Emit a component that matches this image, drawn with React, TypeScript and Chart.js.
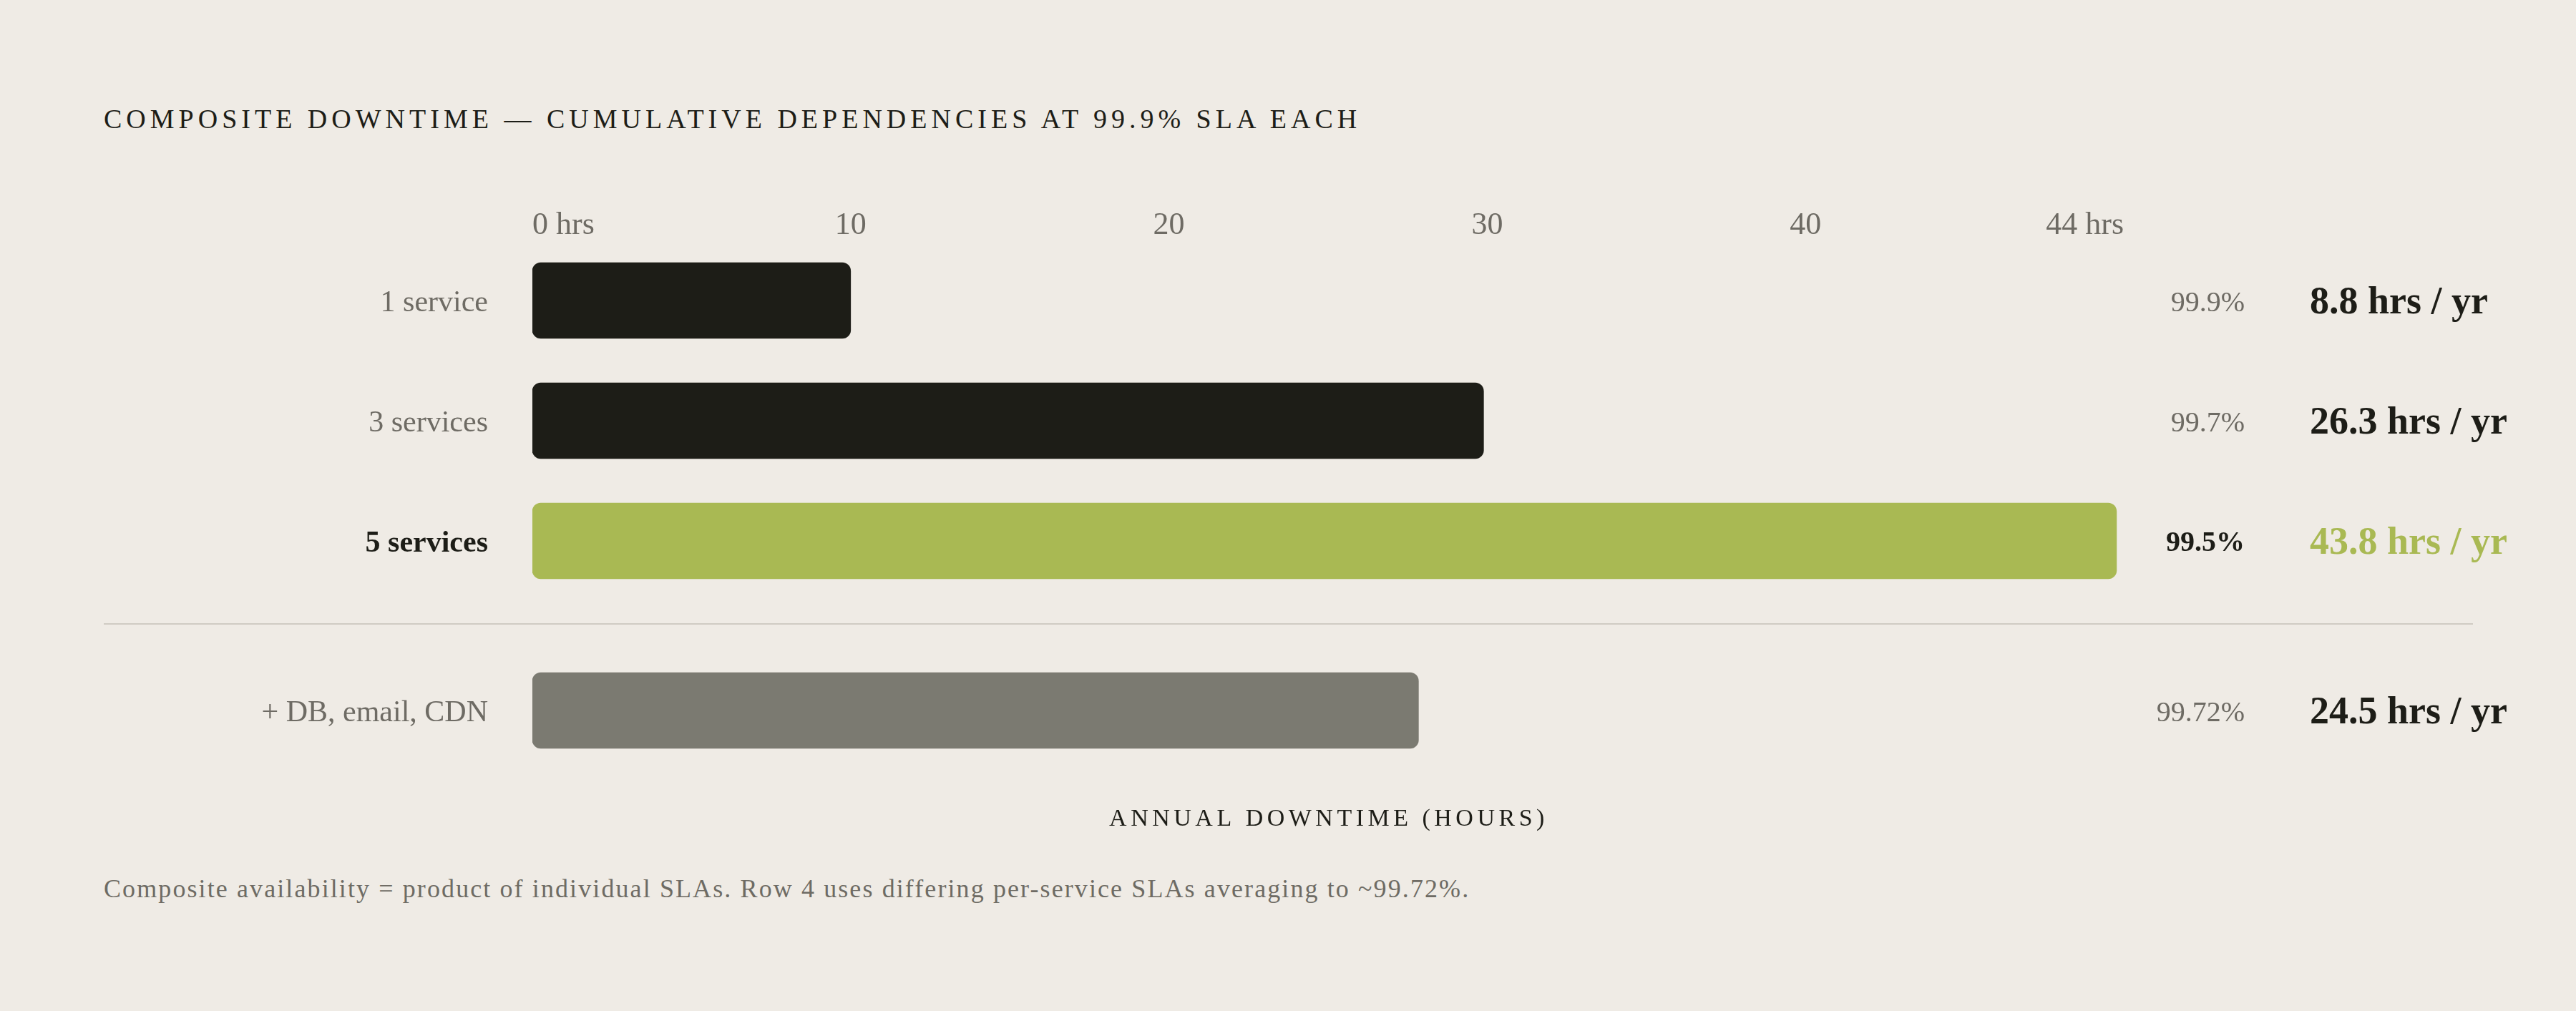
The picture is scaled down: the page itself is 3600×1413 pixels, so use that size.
import React, { useEffect, useRef } from "react";
import { Chart, registerables } from "chart.js";

Chart.register(...registerables);

// ---------- data ----------
const categories = ["1 service", "3 services", "5 services"];
const downtimeHours = [8.8, 26.3, 43.8];
const availability = ["99.9%", "99.7%", "99.5%"];
const highlightIndex = 2;

const extraCategories = ["+ DB, email, CDN"];
const extraDowntimeHours = [24.5];
const extraAvailability = ["99.72%"];

const tickLabels = ["0 hrs", "10", "20", "30", "40", "44 hrs"];
const axisMax = 44;

const titleText = "COMPOSITE DOWNTIME — CUMULATIVE DEPENDENCIES AT 99.9% SLA EACH";
const axisTitleText = "ANNUAL DOWNTIME (HOURS)";
const footnoteText =
  "Composite availability = product of individual SLAs. Row 4 uses differing per-service SLAs averaging to ~99.72%.";

// ---------- styles ----------
const FONT = "'Liberation Serif', 'DejaVu Serif', serif";
const BG = "#EFEBE5";
const DARK = "#1D1D17";
const GREEN = "#A9B953";
const GRAY_BAR = "#7B7A71";
const GRAY_TEXT = "#6E6B64";
const RULE = "#D0CBC3";

const PAGE_W = 3600;
const PAGE_H = 1413;
const AXIS_W = 744;
const RIGHT_PAD = 632;
const TEXT_NUDGE = 4;

function makeRowLabelsPlugin(avail: string[], hours: number[], highlight: number) {
  return {
    id: "rowLabels",
    afterDatasetsDraw(chart: any) {
      const { ctx, chartArea } = chart;
      const yScale = chart.scales.y;
      avail.forEach((a, i) => {
        const py = yScale.getPixelForValue(i) + TEXT_NUDGE;
        const hl = i === highlight;
        ctx.save();
        ctx.textBaseline = "middle";
        ctx.textAlign = "right";
        ctx.font = `${hl ? "bold " : ""}40px ${FONT}`;
        ctx.fillStyle = hl ? DARK : GRAY_TEXT;
        ctx.fillText(a, chartArea.right + 169, py);
        ctx.textAlign = "left";
        ctx.font = `bold 54px ${FONT}`;
        ctx.fillStyle = hl ? GREEN : DARK;
        ctx.fillText(`${hours[i]} hrs / yr`, chartArea.right + 260, py);
        ctx.restore();
      });
    },
  };
}

const axisTitlePlugin = {
  id: "axisTitleSpaced",
  afterDraw(chart: any) {
    const { ctx, chartArea } = chart;
    ctx.save();
    (ctx as any).letterSpacing = "5.5px";
    ctx.font = `34px ${FONT}`;
    ctx.fillStyle = DARK;
    ctx.textAlign = "center";
    ctx.textBaseline = "alphabetic";
    ctx.fillText(axisTitleText, (chartArea.left + chartArea.right) / 2 + 1, chartArea.bottom + 48);
    ctx.restore();
  },
};

function buildOptions(highlight: number, withTopAxis: boolean, padBottom: number) {
  const scales: any = {
    x: { type: "linear", min: 0, max: axisMax, display: false },
    y: {
      type: "category",
      grid: { display: false, drawTicks: false },
      border: { display: false },
      ticks: {
        padding: 62,
        labelOffset: TEXT_NUDGE,
        color: (c: any) => (c.index === highlight ? DARK : GRAY_TEXT),
        font: (c: any) => ({ family: FONT, size: 42, weight: c.index === highlight ? "bold" : "normal" }),
      },
      afterFit: (s: any) => {
        s.width = AXIS_W;
        s.paddingTop = 0;
        s.paddingBottom = 0;
      },
    },
  };
  if (withTopAxis) {
    scales.x2 = {
      type: "category",
      position: "top",
      labels: tickLabels,
      offset: false,
      grid: { display: false, drawTicks: false },
      border: { display: false },
      ticks: {
        align: "inner",
        padding: 3,
        autoSkip: false,
        maxRotation: 0,
        color: GRAY_TEXT,
        font: { family: FONT, size: 44, lineHeight: 0.8 },
      },
      afterFit: (s: any) => {
        s.height = 96;
        s.paddingLeft = 0;
        s.paddingRight = 0;
      },
    };
  }
  return {
    indexAxis: "y",
    animation: false,
    responsive: false,
    maintainAspectRatio: false,
    layout: { padding: { left: 0, right: RIGHT_PAD, top: 0, bottom: padBottom } },
    plugins: {
      legend: { display: false },
      tooltip: { enabled: false },
      title: { display: false },
    },
    scales,
  };
}

export default function App() {
  const topRef = useRef<HTMLCanvasElement | null>(null);
  const botRef = useRef<HTMLCanvasElement | null>(null);

  useEffect(() => {
    document.body.style.margin = "0";
    document.body.style.background = BG;
    const charts: Chart[] = [];
    if (topRef.current) {
      charts.push(
        new Chart(topRef.current, {
          type: "bar",
          data: {
            labels: categories,
            datasets: [
              {
                data: downtimeHours,
                backgroundColor: categories.map((_, i) => (i === highlightIndex ? GREEN : DARK)),
                barThickness: 106,
                borderRadius: 12,
                borderSkipped: false,
              },
            ],
          },
          options: buildOptions(highlightIndex, true, 20) as any,
          plugins: [makeRowLabelsPlugin(availability, downtimeHours, highlightIndex)],
        })
      );
    }
    if (botRef.current) {
      charts.push(
        new Chart(botRef.current, {
          type: "bar",
          data: {
            labels: extraCategories,
            datasets: [
              {
                data: extraDowntimeHours,
                backgroundColor: GRAY_BAR,
                barThickness: 106,
                borderRadius: 12,
                borderSkipped: false,
              },
            ],
          },
          options: buildOptions(-1, false, 94) as any,
          plugins: [makeRowLabelsPlugin(extraAvailability, extraDowntimeHours, -1), axisTitlePlugin],
        })
      );
    }
    return () => charts.forEach((c) => c.destroy());
  }, []);

  return (
    <div
      style={{
        position: "relative",
        width: PAGE_W,
        height: PAGE_H,
        background: BG,
        overflow: "hidden",
        fontFamily: FONT,
      }}
    >
      <div
        style={{
          position: "absolute",
          left: 145,
          top: 147,
          fontSize: 38,
          lineHeight: "38px",
          letterSpacing: "6px",
          color: DARK,
          whiteSpace: "nowrap",
        }}
      >
        {titleText}
      </div>
      <canvas
        ref={topRef}
        width={PAGE_W}
        height={620}
        style={{ position: "absolute", left: 0, top: 240, width: PAGE_W, height: 620 }}
      />
      <div
        style={{ position: "absolute", left: 145, top: 871, width: 3311, height: 2, background: RULE }}
      />
      <canvas
        ref={botRef}
        width={PAGE_W}
        height={320}
        style={{ position: "absolute", left: 0, top: 880, width: PAGE_W, height: 320 }}
      />
      <div
        style={{
          position: "absolute",
          left: 145,
          top: 1224,
          fontSize: 36,
          lineHeight: "36px",
          letterSpacing: "2.1px",
          color: GRAY_TEXT,
          whiteSpace: "nowrap",
        }}
      >
        {footnoteText}
      </div>
    </div>
  );
}
